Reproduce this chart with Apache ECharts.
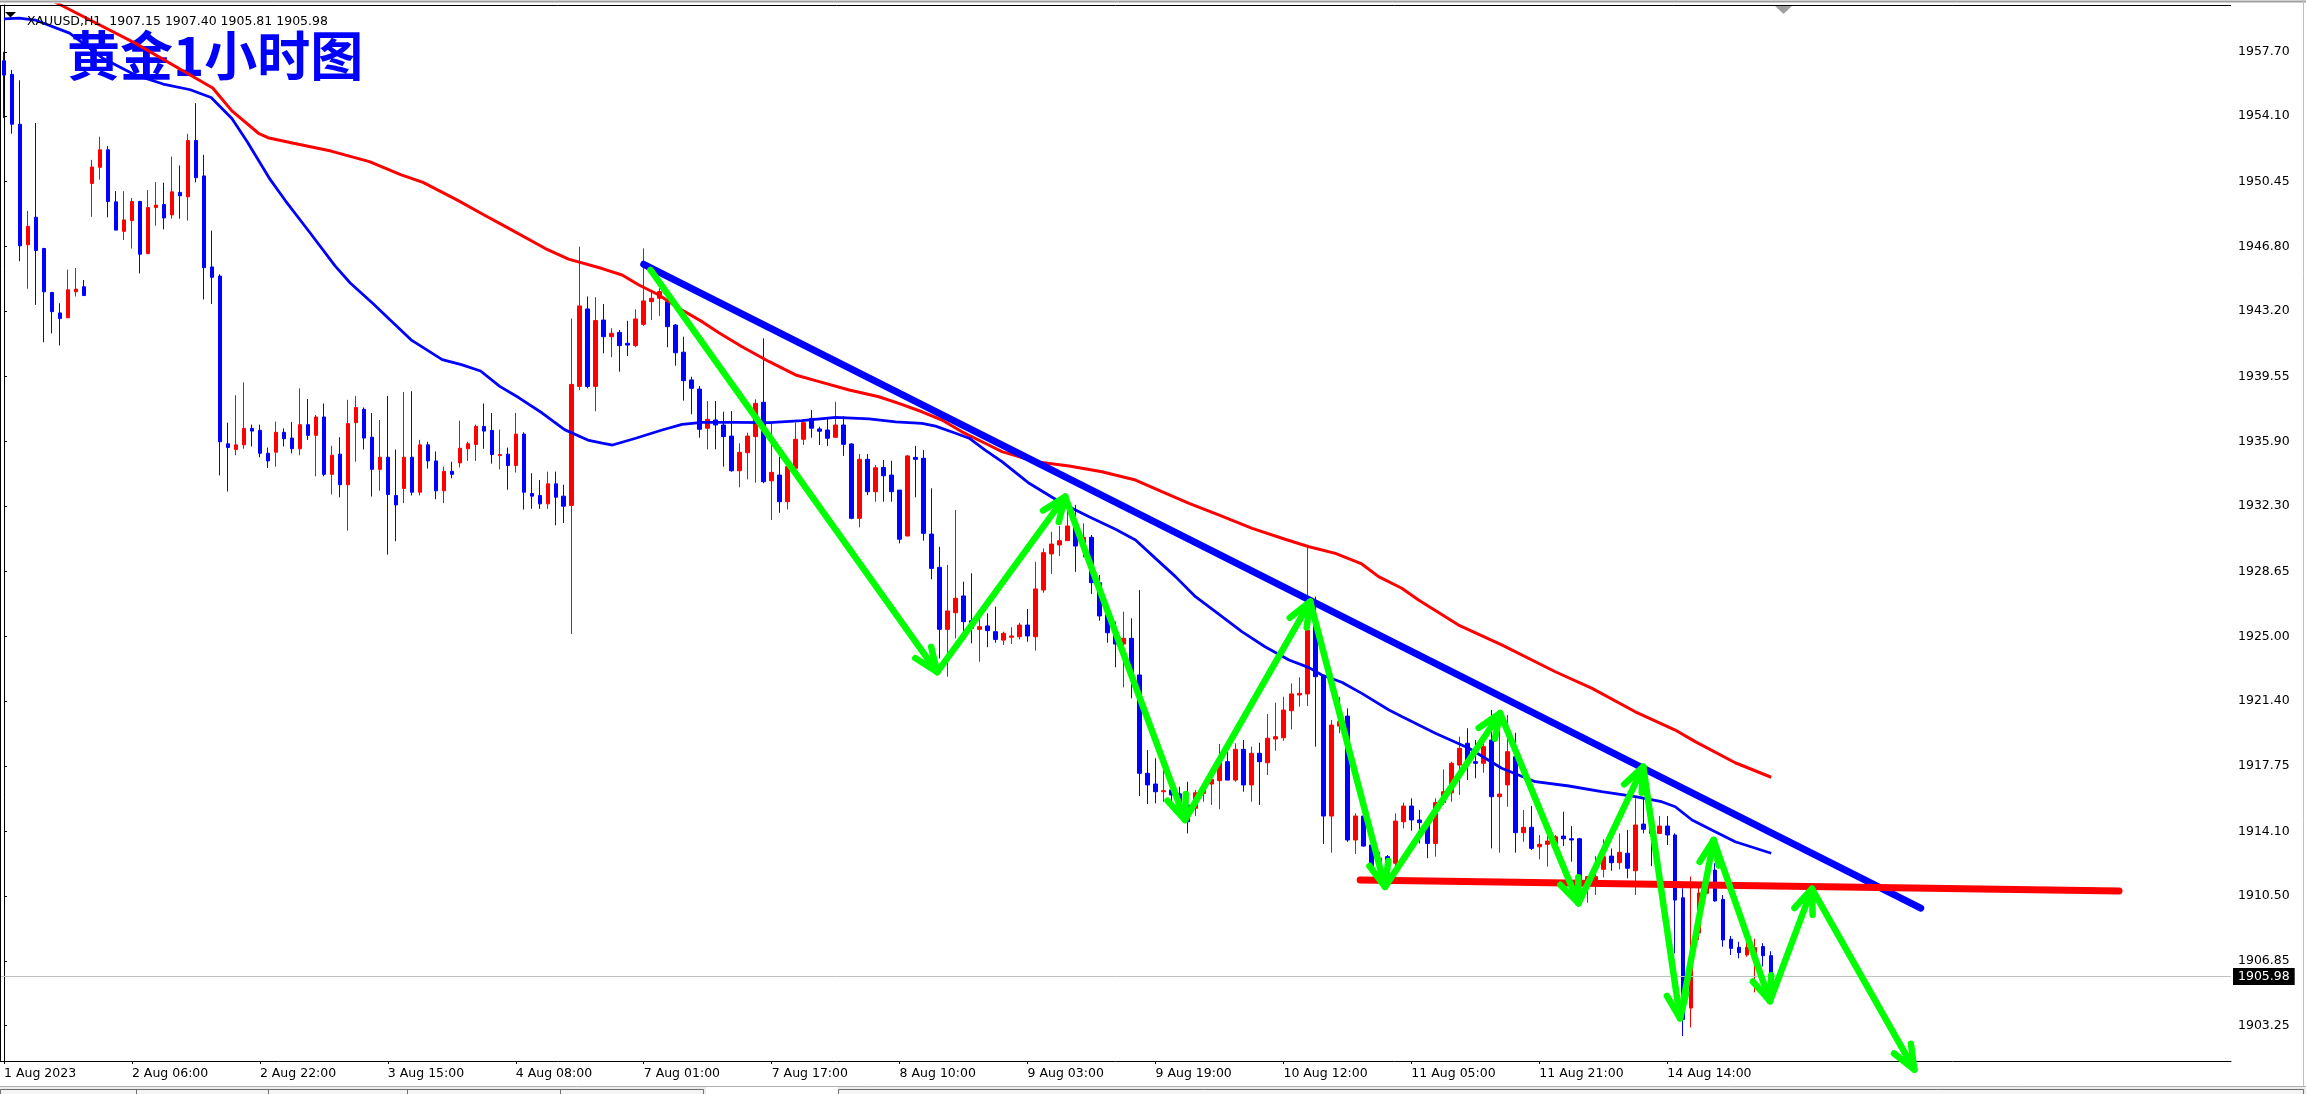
<!DOCTYPE html>
<html><head><meta charset="utf-8">
<script src="https://cdn.jsdelivr.net/npm/echarts@6/dist/echarts.min.js"></script>
<style>html,body{margin:0;padding:0;background:#fff;overflow:hidden}#c{width:2306px;height:1094px}</style>
</head><body><div id="c"></div>
<script>
// ---- data ----
const symbolName = 'XAUUSD,H1';
const titleText = '黄金1小时图';
const tickLabels = ['1 Aug 2023','2 Aug 06:00','2 Aug 22:00','3 Aug 15:00','4 Aug 08:00','7 Aug 01:00','7 Aug 17:00','8 Aug 10:00','9 Aug 03:00','9 Aug 19:00','10 Aug 12:00','11 Aug 05:00','11 Aug 21:00','14 Aug 14:00'];
const barsPerLabel = 16;
const totalSlots = 279;
const priceTicks = [1957.70,1954.10,1950.45,1946.80,1943.20,1939.55,1935.90,1932.30,1928.65,1925.00,1921.40,1917.75,1914.10,1910.50,1906.85,1903.25];
const priceMin = 1901.26, priceMax = 1960.32;
// [open, close, low, high]
const ohlc = [
[1957.20,1956.40,1954.00,1957.70],[1956.44,1953.65,1953.12,1956.69],[1953.65,1946.85,1945.99,1956.11],[1946.91,1947.94,1944.45,1948.80],
[1948.45,1946.59,1943.55,1953.72],[1946.70,1944.28,1941.46,1946.74],[1944.24,1943.17,1941.95,1944.28],[1943.10,1942.78,1941.28,1943.64],
[1942.83,1944.39,1942.80,1945.52],[1944.28,1944.43,1944.02,1945.61],[1944.56,1944.07,1944.07,1944.94],[1950.34,1951.26,1948.47,1951.66],
[1951.24,1952.22,1950.55,1952.95],[1952.22,1949.33,1948.45,1952.43],[1949.31,1947.73,1947.73,1949.91],[1947.66,1948.30,1947.18,1949.91],
[1948.26,1949.33,1946.70,1949.53],[1949.33,1946.38,1945.31,1949.37],[1946.42,1948.99,1946.38,1949.97],[1948.99,1949.13,1947.98,1950.42],
[1949.16,1948.41,1947.77,1950.38],[1948.58,1949.87,1948.37,1951.84],[1949.84,1949.65,1948.37,1951.34],[1949.59,1952.74,1948.26,1953.12],
[1952.74,1950.66,1950.40,1954.83],[1950.76,1945.63,1943.85,1951.94],[1945.67,1945.09,1943.60,1947.70],[1945.16,1935.89,1934.01,1945.26],
[1935.78,1935.57,1933.11,1936.96],[1935.46,1935.72,1935.14,1938.50],[1935.72,1936.64,1935.50,1939.21],[1936.64,1936.49,1935.63,1936.85],
[1936.53,1935.25,1935.03,1936.85],[1935.25,1934.82,1934.43,1935.57],[1935.31,1936.42,1934.50,1937.02],[1936.42,1936.06,1935.63,1936.64],
[1936.10,1935.50,1935.25,1937.00],[1935.50,1936.85,1935.14,1938.88],[1936.85,1936.25,1935.99,1938.28],[1936.25,1937.28,1933.96,1937.39],
[1937.28,1934.07,1933.96,1938.03],[1934.07,1935.14,1932.94,1935.67],[1935.20,1933.49,1932.79,1936.15],[1933.49,1936.91,1930.92,1938.24],
[1936.96,1937.81,1934.78,1938.46],[1937.71,1936.10,1935.46,1937.81],[1936.15,1934.35,1932.83,1937.50],[1934.35,1935.03,1933.15,1937.11],
[1935.03,1932.94,1929.58,1938.46],[1932.89,1932.36,1930.33,1935.46],[1933.28,1935.03,1932.46,1938.68],[1935.03,1933.07,1932.89,1938.72],
[1933.07,1935.72,1932.89,1936.00],[1935.72,1934.82,1934.39,1935.89],[1934.82,1933.15,1932.68,1935.35],[1933.15,1934.24,1932.46,1934.50],
[1934.24,1934.07,1933.85,1934.78],[1934.71,1935.53,1934.45,1937.07],[1935.50,1935.78,1934.82,1935.89],[1935.74,1936.75,1934.82,1936.85],
[1936.75,1936.49,1935.50,1938.03],[1936.53,1935.18,1934.67,1937.50],[1935.12,1935.18,1934.35,1936.57],[1935.20,1934.56,1933.21,1935.57],
[1934.56,1936.32,1934.17,1937.50],[1936.32,1933.07,1932.10,1936.42],[1933.00,1932.85,1932.14,1934.13],[1932.89,1932.42,1932.14,1933.75],
[1932.42,1933.54,1932.14,1934.22],[1933.54,1932.79,1931.22,1934.22],[1932.85,1932.29,1931.35,1933.49],[1932.33,1939.10,1925.14,1942.78],
[1938.99,1943.49,1938.78,1946.80],[1943.32,1938.99,1938.88,1944.02],[1938.99,1942.67,1937.60,1943.98],[1942.70,1941.77,1940.84,1943.60],
[1941.77,1941.96,1940.62,1942.24],[1942.01,1941.27,1939.81,1942.14],[1941.40,1941.30,1940.69,1942.66],[1941.27,1942.76,1941.18,1943.30],
[1942.46,1943.77,1942.37,1946.71],[1943.73,1943.92,1942.70,1944.29],[1943.92,1944.29,1942.93,1944.48],[1943.73,1942.33,1941.18,1944.01],
[1942.42,1940.87,1940.15,1942.48],[1940.90,1939.31,1938.19,1941.77],[1939.35,1938.88,1937.43,1939.53],[1938.84,1936.59,1936.12,1939.01],
[1936.65,1937.15,1935.47,1938.17],[1937.11,1936.83,1935.47,1938.17],[1936.83,1936.18,1934.50,1937.57],[1936.21,1934.27,1934.22,1937.61],
[1934.27,1935.30,1933.35,1935.81],[1935.28,1936.21,1933.79,1936.40],[1936.18,1938.04,1933.60,1938.27],[1938.10,1933.66,1933.57,1941.68],
[1933.71,1934.18,1931.52,1936.92],[1934.03,1932.54,1931.92,1935.06],[1932.54,1934.50,1932.11,1934.87],[1934.41,1936.03,1934.31,1936.96],
[1936.03,1936.96,1935.71,1937.15],[1937.20,1936.65,1936.12,1937.67],[1936.61,1936.48,1935.71,1936.73],[1936.55,1936.09,1935.66,1937.20],
[1936.14,1936.83,1936.14,1938.13],[1936.83,1935.75,1935.10,1937.33],[1935.77,1931.61,1931.56,1935.81],[1931.61,1934.91,1931.11,1935.21],
[1934.91,1933.10,1932.91,1935.21],[1933.10,1934.44,1932.54,1934.59],[1934.46,1933.99,1932.54,1934.87],[1934.03,1933.10,1932.54,1934.83],
[1933.19,1930.44,1930.21,1933.19],[1930.62,1935.10,1930.62,1935.15],[1935.02,1934.91,1932.79,1935.66],[1934.97,1930.77,1930.36,1935.43],
[1930.73,1928.81,1928.20,1933.29],[1928.87,1925.40,1923.78,1930.02],[1925.40,1926.43,1922.75,1929.00],[1926.33,1927.14,1924.90,1932.08],
[1927.27,1925.83,1925.27,1928.07],[1925.88,1925.46,1924.62,1928.54],[1925.40,1925.55,1923.59,1926.39],[1925.59,1925.33,1924.40,1926.30],
[1925.27,1924.84,1924.65,1926.67],[1924.80,1925.18,1924.53,1925.27],[1924.96,1925.03,1924.58,1925.52],[1924.99,1925.64,1924.84,1925.77],
[1925.64,1925.03,1924.71,1926.54],[1924.99,1927.66,1924.21,1929.18],[1927.60,1929.69,1927.45,1929.93],[1929.62,1930.17,1928.50,1930.86],
[1930.12,1930.36,1929.50,1931.18],[1930.36,1931.18,1930.36,1932.11],[1931.18,1930.06,1928.62,1932.36],[1930.06,1930.55,1929.43,1931.33],
[1930.55,1928.01,1927.38,1930.68],[1928.01,1926.15,1925.88,1928.44],[1926.20,1925.21,1924.65,1926.30],[1925.21,1924.58,1923.28,1925.83],
[1924.58,1924.90,1922.16,1926.39],[1924.90,1922.85,1921.54,1926.02],[1922.85,1917.35,1916.08,1927.60],[1917.35,1916.70,1915.63,1918.65],
[1916.75,1916.32,1915.67,1918.19],[1916.32,1916.38,1915.76,1918.00],[1916.42,1916.14,1915.48,1916.64],[1916.20,1915.60,1915.40,1916.60],
[1915.58,1914.64,1913.99,1916.88],[1915.39,1916.26,1914.96,1916.42],[1916.23,1916.51,1915.76,1916.79],[1916.75,1917.01,1915.58,1917.53],
[1916.94,1917.94,1915.34,1918.99],[1918.00,1916.97,1916.97,1918.56],[1916.97,1918.69,1916.88,1919.03],[1918.69,1916.70,1916.32,1919.21],
[1916.70,1918.47,1915.76,1918.84],[1918.47,1918.00,1915.58,1919.06],[1917.94,1919.31,1917.25,1920.67],[1919.27,1919.40,1918.61,1921.30],
[1919.34,1920.89,1919.17,1921.63],[1920.85,1921.79,1919.81,1922.38],[1921.73,1921.82,1921.07,1922.72],[1921.79,1925.36,1921.11,1930.06],
[1925.83,1922.75,1918.84,1927.23],[1922.79,1914.96,1913.40,1922.85],[1914.96,1920.05,1912.91,1920.33],[1919.99,1920.24,1919.59,1921.63],
[1920.55,1913.62,1913.52,1920.98],[1913.62,1914.96,1912.84,1915.11],[1914.96,1913.28,1913.24,1915.02],[1913.34,1912.16,1912.04,1913.90],
[1912.28,1912.61,1911.83,1912.95],[1912.69,1912.35,1911.94,1912.78],[1912.32,1914.68,1911.94,1915.11],[1914.64,1915.52,1914.27,1915.71],
[1915.52,1914.74,1914.14,1915.95],[1914.74,1914.59,1913.43,1915.30],[1914.64,1913.43,1912.60,1914.74],[1913.43,1915.71,1912.69,1915.95],
[1915.71,1916.32,1915.58,1917.57],[1916.26,1917.91,1915.76,1918.00],[1917.81,1918.75,1916.14,1919.40],[1919.03,1917.91,1916.97,1919.87],
[1918.00,1917.91,1917.07,1919.21],[1917.91,1918.84,1917.38,1919.21],[1919.21,1916.04,1913.15,1920.89],[1916.04,1916.19,1912.91,1920.89],
[1916.70,1918.56,1915.48,1920.61],[1918.28,1914.03,1912.91,1919.62],[1914.03,1914.33,1913.52,1915.30],[1914.33,1913.15,1913.06,1915.52],
[1913.24,1913.38,1912.54,1913.90],[1913.38,1913.56,1912.13,1914.08],[1913.43,1913.80,1912.78,1913.90],[1913.84,1913.69,1913.28,1915.20],
[1913.69,1913.62,1912.41,1914.40],[1913.69,1911.38,1911.20,1913.74],[1911.38,1911.57,1910.11,1911.60],[1911.29,1911.57,1910.54,1912.72],
[1911.98,1912.69,1911.53,1913.66],[1912.72,1912.35,1911.90,1913.15],[1912.35,1912.93,1911.98,1913.99],[1912.88,1912.04,1911.48,1914.18],
[1911.90,1914.46,1910.54,1915.95],[1914.51,1914.22,1913.99,1915.95],[1914.27,1913.99,1912.16,1914.92],[1913.99,1914.40,1913.99,1914.96],
[1914.40,1913.90,1913.34,1914.96],[1913.90,1910.26,1907.28,1913.99],[1910.39,1903.59,1902.66,1910.92],[1904.22,1907.30,1903.14,1911.57],
[1908.42,1910.66,1908.03,1910.99],[1910.64,1911.20,1910.64,1911.57],[1911.94,1910.21,1910.17,1912.32],[1910.30,1908.03,1907.65,1910.54],
[1908.07,1907.56,1907.19,1908.25],[1907.62,1907.32,1907.00,1907.93],[1907.19,1907.62,1907.09,1908.03],[1907.30,1907.60,1905.10,1908.10],
[1907.66,1907.15,1906.55,1907.85],[1907.15,1905.98,1905.81,1907.40]
];
// moving averages: [bar position, price]
const maSlow = [[0,1961.92],[7.1,1960.32],[16.4,1958.19],[26.1,1955.68],[28.5,1954.40],[31.9,1953.12],[33.0,1952.90],[36.2,1952.59],[40.9,1952.15],[45.7,1951.56],[49.6,1950.83],[52.4,1950.40],[56.7,1949.41],[60.1,1948.56],[62.9,1947.88],[67.7,1946.70],[70.6,1946.11],[74.8,1945.58],[77.3,1945.22],[79.4,1944.66],[81.9,1944.10],[84.4,1943.36],[87.3,1942.61],[89.4,1941.99],[92.3,1941.21],[95.7,1940.37],[99.0,1939.63],[101.5,1939.31],[105.7,1938.79],[109.4,1938.41],[111.9,1938.04],[114.8,1937.57],[117.3,1937.11],[119.8,1936.45],[122.7,1935.81],[124.8,1935.34],[129.0,1934.78],[133.2,1934.54],[137.3,1934.22],[141.5,1933.75],[144.8,1933.10],[148.2,1932.45],[151.9,1931.80],[156.1,1931.05],[160.2,1930.44],[163.2,1930.02],[166.5,1929.65],[169.8,1929.06],[171.9,1928.35],[174.8,1927.70],[176.9,1927.04],[181.9,1925.64],[187.3,1924.53],[194.0,1923.03],[198.6,1922.10],[204.0,1920.79],[209.0,1919.77],[211.5,1919.12],[216.5,1917.94],[221,1917.13]];
const maFast = [[0,1959.54],[1.9,1959.59],[3.9,1959.48],[8.2,1958.75],[12.3,1957.36],[16.4,1956.41],[19.9,1955.90],[23.3,1955.58],[25.9,1955.15],[28.5,1953.97],[30.4,1952.69],[33.3,1950.55],[35.2,1949.37],[38.1,1947.68],[41.4,1945.73],[43.3,1944.77],[46.2,1943.60],[48.2,1942.74],[51.0,1941.56],[54.8,1940.49],[57.2,1940.21],[59.6,1939.85],[62.0,1938.99],[64.4,1938.35],[67.3,1937.50],[70.1,1936.57],[73.0,1935.99],[74.8,1935.82],[76.1,1935.71],[79.0,1936.09],[82.3,1936.55],[84.8,1936.87],[87.3,1936.98],[91.5,1936.98],[95.7,1936.96],[99.8,1937.07],[104.0,1937.26],[108.2,1937.17],[111.5,1937.00],[114.8,1936.92],[116.5,1936.77],[119.0,1936.37],[120.7,1936.09],[122.7,1935.43],[124.8,1934.78],[128.2,1933.57],[132.3,1932.45],[135.7,1931.70],[139.0,1931.00],[141.5,1930.40],[144.0,1929.37],[146.5,1928.35],[149.0,1927.23],[151.5,1926.39],[154.8,1925.27],[157.7,1924.43],[160.7,1923.69],[163.2,1923.26],[164.8,1922.85],[167.3,1922.44],[169.8,1921.82],[173.2,1920.89],[174.8,1920.53],[179.0,1919.59],[183.2,1918.75],[187.3,1917.63],[191.5,1916.88],[195.7,1916.64],[199.8,1916.32],[204.0,1916.04],[207.3,1915.76],[209.0,1915.48],[211.1,1914.74],[214.0,1914.08],[216.5,1913.52],[221,1912.88]];
const trendLine = [[80.0,1945.82],[239.7,1909.81]];
const supportLine = [[169.6,1911.38],[264.5,1910.77]];
const zigzag = [[80.85,1945.50],[116.7,1923.01],[132.7,1932.82],[147.7,1914.74],[163.35,1926.95],[172.7,1911.00],[187.1,1920.71],[196.9,1910.08],[205.0,1917.72],[209.6,1903.65],[213.8,1913.62],[220.85,1904.61],[226.1,1910.89],[238.9,1900.78]];
const lastBar = ohlc[ohlc.length - 1];
const lastPrice = lastBar[1];

// ---- chart ----
const slots = Array.from({length: totalSlots}, (_, i) => String(i));
const isLabelSlot = (idx) => idx % barsPerLabel === 0 && idx / barsPerLabel < tickLabels.length;
const arrowSegs = zigzag.slice(1).map((p, k) => [zigzag[k][0], zigzag[k][1], p[0], p[1]]);
const header = symbolName + '  ' + [lastBar[0], lastBar[3], lastBar[2], lastBar[1]].map(v => v.toFixed(2)).join(' ');
const FONT = 'DejaVu Sans';

const chart = echarts.init(document.getElementById('c'), null, {renderer: 'canvas', devicePixelRatio: 1});
chart.setOption({
  animation: false,
  backgroundColor: '#ffffff',
  title: [
    {text: titleText, left: 62, top: 24, z: 1,
     textStyle: {fontFamily: 'Noto Sans CJK SC', fontWeight: 'bold', fontSize: 53, color: '#0000ff',
       textShadowColor: '#000033', textShadowOffsetX: -1.5, textShadowOffsetY: 1.5, textShadowBlur: 0}},
    {text: header, left: 22, top: 10,
     textStyle: {fontFamily: FONT, fontWeight: 'normal', fontSize: 12.5, color: '#000'}}
  ],
  grid: {left: -2.5, top: 5, width: 2233.5, height: 1056, containLabel: false},
  xAxis: [
    {type: 'category', data: slots, boundaryGap: true,
     axisLine: {show: true, onZero: false, lineStyle: {color: '#000', width: 1}},
     axisTick: {show: true, alignWithLabel: true, interval: isLabelSlot, length: 3, lineStyle: {color: '#000'}},
     axisLabel: {interval: isLabelSlot, formatter: (v) => tickLabels[Number(v) / barsPerLabel], align: 'left',
       color: '#000', fontFamily: FONT, fontSize: 12.5, margin: 6, hideOverlap: false},
     splitLine: {show: false}},
    {type: 'value', min: -0.5, max: totalSlots - 0.5, show: false}
  ],
  yAxis: {type: 'value', position: 'right', min: priceMin, max: priceMax, scale: true,
    axisLine: {show: true, lineStyle: {color: '#000', width: 1}},
    axisTick: {show: true, customValues: priceTicks, length: 3, lineStyle: {color: '#000'}},
    axisLabel: {customValues: priceTicks, formatter: (v) => v.toFixed(2), color: '#000', fontFamily: FONT, fontSize: 12.5, margin: 7},
    splitLine: {show: false}},
  series: [
    {type: 'candlestick', xAxisIndex: 0, yAxisIndex: 0, data: ohlc, barWidth: 4, z: 2,
     itemStyle: {color: '#ff0000', color0: '#0000ff', borderColor: '#ff0000', borderColor0: '#0000ff', borderWidth: 1},
     markLine: {silent: true, symbol: ['none', 'none'], animation: false,
       lineStyle: {color: '#c0c0c0', width: 1, type: 'solid'},
       label: {show: true, position: 'end', distance: 2, formatter: lastPrice.toFixed(2), backgroundColor: '#000', color: '#fff',
         padding: [2, 5, 2, 5], fontFamily: FONT, fontSize: 12.5},
       emphasis: {disabled: true},
       data: [{yAxis: lastPrice}]}},
    {type: 'line', xAxisIndex: 1, yAxisIndex: 0, data: maSlow, symbol: 'none', z: 3, silent: true,
     lineStyle: {color: '#ff0000', width: 3}},
    {type: 'line', xAxisIndex: 1, yAxisIndex: 0, data: maFast, symbol: 'none', z: 3, silent: true,
     lineStyle: {color: '#0000ff', width: 2.8}},
    {type: 'line', xAxisIndex: 1, yAxisIndex: 0, data: trendLine, symbol: 'none', z: 4, silent: true,
     lineStyle: {color: '#0000ff', width: 7, cap: 'round'}},
    {type: 'line', xAxisIndex: 1, yAxisIndex: 0, data: supportLine, symbol: 'none', z: 4, silent: true,
     lineStyle: {color: '#ff0000', width: 7, cap: 'round'}},
    {type: 'custom', xAxisIndex: 1, yAxisIndex: 0, data: arrowSegs, encode: {x: [0, 2], y: [1, 3]}, z: 5, silent: true, clip: false,
     renderItem: function (params, api) {
       const a = api.coord([api.value(0), api.value(1)]);
       const b = api.coord([api.value(2), api.value(3)]);
       const ang = Math.atan2(a[1] - b[1], a[0] - b[0]);
       const L = 26, t = 22 * Math.PI / 180;
       const b1 = [b[0] + L * Math.cos(ang + t), b[1] + L * Math.sin(ang + t)];
       const b2 = [b[0] + L * Math.cos(ang - t), b[1] + L * Math.sin(ang - t)];
       const st = {stroke: '#00ff00', lineWidth: 6.5, fill: null, lineCap: 'round', lineJoin: 'round'};
       return {type: 'group', children: [
         {type: 'polyline', shape: {points: [a, b]}, style: st},
         {type: 'polyline', shape: {points: [b1, b, b2]}, style: st}
       ]};
     }}
  ],
  graphic: [
    {type: 'line', shape: {x1: 0, y1: 1.5, x2: 2306, y2: 1.5}, style: {stroke: '#a0a0a0', lineWidth: 2}, z: 20},
    {type: 'line', shape: {x1: 0.5, y1: 5, x2: 0.5, y2: 1061}, style: {stroke: '#000', lineWidth: 1}, z: 20},
    {type: 'line', shape: {x1: 0, y1: 5.5, x2: 2231, y2: 5.5}, style: {stroke: '#000', lineWidth: 1}, z: 20},
    {type: 'line', shape: {x1: 2303.5, y1: 0, x2: 2303.5, y2: 1094}, style: {stroke: '#c0c0c0', lineWidth: 1}, z: 20},
    {type: 'polygon', shape: {points: [[5, 12], [16, 12], [10.5, 17.5]]}, style: {fill: '#000'}, z: 20},
    {type: 'polygon', shape: {points: [[1775, 6], [1792, 6], [1783.5, 14]]}, style: {fill: '#a0a0a0'}, z: 20},
    {type: 'rect', shape: {x: 0, y: 1086, width: 2306, height: 8}, style: {fill: '#ececec'}, z: 20},
    {type: 'line', shape: {x1: 0, y1: 1086.5, x2: 2306, y2: 1086.5}, style: {stroke: '#b0b0b0', lineWidth: 1}, z: 21},
    {type: 'rect', shape: {x: 0.5, y: 1089.5, width: 703, height: 6}, style: {fill: '#f4f4f4', stroke: '#707070', lineWidth: 1}, z: 21},
    {type: 'rect', shape: {x: 706, y: 1087, width: 132, height: 7}, style: {fill: '#ffffff'}, z: 21},
    {type: 'rect', shape: {x: 838.5, y: 1089.5, width: 1465, height: 6}, style: {fill: '#f4f4f4', stroke: '#707070', lineWidth: 1}, z: 21},
    {type: 'line', shape: {x1: 136.5, y1: 1089, x2: 136.5, y2: 1094}, style: {stroke: '#707070'}, z: 22},
    {type: 'line', shape: {x1: 268.5, y1: 1089, x2: 268.5, y2: 1094}, style: {stroke: '#707070'}, z: 22},
    {type: 'line', shape: {x1: 407.5, y1: 1089, x2: 407.5, y2: 1094}, style: {stroke: '#707070'}, z: 22},
    {type: 'line', shape: {x1: 560.5, y1: 1089, x2: 560.5, y2: 1094}, style: {stroke: '#707070'}, z: 22}
  ]
});
</script></body></html>
